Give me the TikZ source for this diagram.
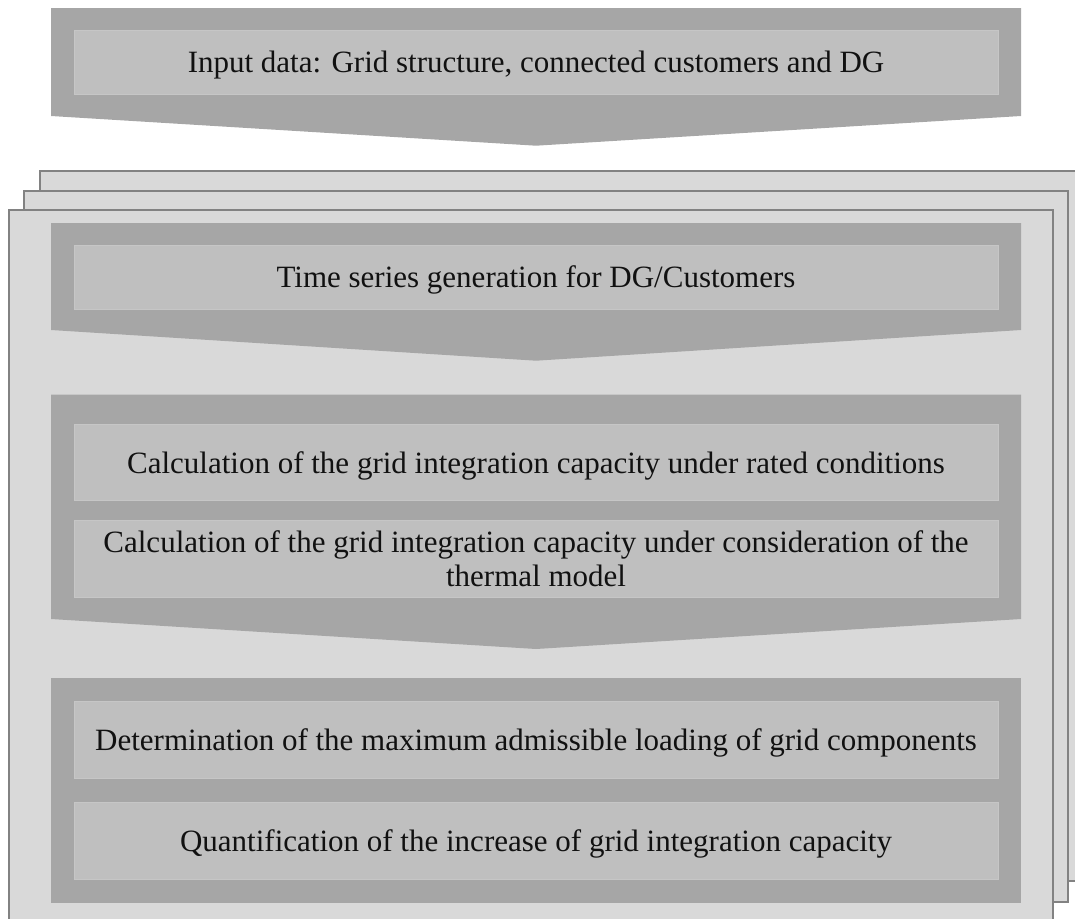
\documentclass[tikz,border=0pt]{standalone}
\usepackage{fontspec}
\setmainfont{Liberation Serif}
\definecolor{outerc}{HTML}{A6A6A6}
\definecolor{innerc}{HTML}{BFBFBF}
\definecolor{innerl}{HTML}{C6C6C6}
\definecolor{pagec}{HTML}{D9D9D9}
\definecolor{pageb}{HTML}{828282}
\definecolor{txt}{HTML}{111111}
\tikzset{
  pagebox/.style={fill=pagec, draw=pageb, line width=1.6pt},
  chev/.style={fill=outerc},
  inbox/.style={fill=innerc, draw=innerl, line width=0.8pt},
  lbl/.style={anchor=base, inner sep=0pt, text=txt, font=\fontsize{31}{34}\selectfont, align=center},
}
\begin{document}
\begin{tikzpicture}[x=1pt,y=-1pt]
\useasboundingbox (0,0) rectangle (1075,918);
\clip (0,0) rectangle (1075,918);
% stacked pages
\path[pagebox] (40,171) rectangle (1084,881);
\path[pagebox] (24,191) rectangle (1068,902);
\path[pagebox] (9,210) rectangle (1053,925);
% chevron 1
\path[chev] (51,8) -- (1021,8) -- (1021,116) -- (536,145.7) -- (51,116) -- cycle;
\path[inbox] (74,30) rectangle (998,94);
\node[lbl] (t1) at (536,72.5) {Input data: Grid structure, connected customers and DG};
% chevron 2
\path[chev] (51,223) -- (1021,223) -- (1021,330) -- (536,360.7) -- (51,330) -- cycle;
\path[inbox] (74,245) rectangle (998,309);
\node[lbl] (t2) at (536,287.5) {Time series generation for DG/Customers};
% chevron 3
\path[chev] (51,394.5) -- (1021,394.5) -- (1021,619) -- (536,649) -- (51,619) -- cycle;
\path[inbox] (74,424) rectangle (998,500);
\path[inbox] (74,520) rectangle (998,597);
\node[lbl] (t3) at (536,473) {Calculation of the grid integration capacity under rated conditions};
\node[lbl, anchor=base] (t4a) at (536,552) {Calculation of the grid integration capacity under consideration of the};
\node[lbl, anchor=base] (t4b) at (536,586) {thermal model};
% chevron 4
\path[chev] (51,678) rectangle (1021,903);
\path[inbox] (74,701) rectangle (998,778);
\path[inbox] (74,802) rectangle (998,879);
\node[lbl] (t5) at (536,750.5) {Determination of the maximum admissible loading of grid components};
\node[lbl] (t6) at (536,851.5) {Quantification of the increase of grid integration capacity};
\end{tikzpicture}
\end{document}
